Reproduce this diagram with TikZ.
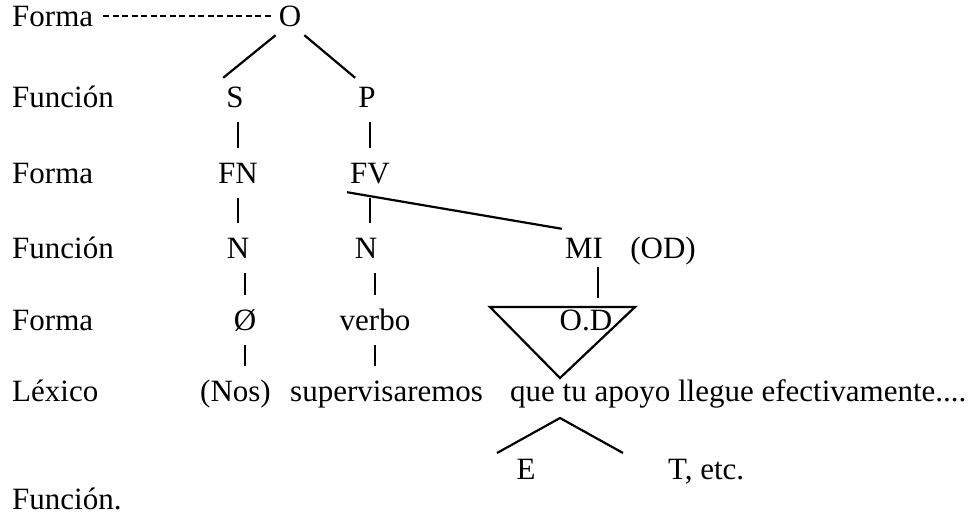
\documentclass[tikz,border=0pt]{standalone}
\usepackage{fontspec}
\setmainfont{Liberation Serif}
\usetikzlibrary{calc}

\begin{document}
\begin{tikzpicture}[x=1pt,y=-1pt,
    lab/.style={font=\fontsize{31}{31}\selectfont,text height=20pt,text depth=0pt,inner xsep=3pt,inner ysep=9pt},
    txt/.style={lab,anchor=base west,inner xsep=0pt},
    word/.style={lab,anchor=base},
    stem/.style={line width=1.1pt,shorten <=6pt,shorten >=6pt},
    limb/.style={line width=2.2pt},
    dashline/.style={line width=1.8pt,dash pattern=on 6pt off 3.5pt}]
  \useasboundingbox (0,0) rectangle (977,515);

  \node[txt] (fma1) at (12,26) {Forma};
  \node[txt] (fun2) at (12,107) {Función};
  \node[txt] (fma3) at (12,183) {Forma};
  \node[txt] (fun4) at (12,258) {Función};
  \node[txt] (fma5) at (12,330) {Forma};
  \node[txt] (lex) at (12,401) {Léxico};
  \node[txt] (fun8) at (12,509) {Función.};

  \node[word] (O) at (290,26) {O};
  \node[word] (S) at (235,107) {S};
  \node[word] (P) at (367,107) {P};
  \node[word] (FN) at (238,183) {FN};
  \node[word] (FV) at (370,183) {FV};
  \node[word] (Nl) at (238,258) {N};
  \node[word] (Nr) at (366,258) {N};
  \node[word] (MI) at (584,258) {MI};
  \node[word] (OD) at (663,258) {(OD)};
  \node[word] (zero) at (245,330) {Ø};
  \node[word] (verbo) at (375,330) {verbo};
  \node[word] (odlab) at (586,330) {O.D};
  \node[txt] (nos) at (200,401) {(Nos)};
  \node[txt] (superv) at (290,401) {supervisaremos};
  \node[txt] (que) at (510,401) {que tu apoyo llegue efectivamente....};
  \node[word] (E) at (526,479) {E};
  \node[txt] (T) at (668,479) {T, etc.};

  \draw[dashline] ([xshift=10pt]fma1.east) -- ([xshift=-4pt]O.west);
  \draw[limb] (O.south west) -- (S.north west);
  \draw[limb] (O.south east) -- (P.north west);
  \draw[stem] (FN.north |- S.south) -- (FN.north);
  \draw[stem] (FV.north |- P.south) -- (FV.north);
  \draw[stem] (FN.south) -- (FN.south |- Nl.north);
  \draw[stem] (FV.south) -- (FV.south |- Nr.north);
  \draw[limb] (FV.south west) -- (MI.north west);
  \draw[stem] (zero.north |- Nl.south) -- (zero.north);
  \draw[stem] (verbo.north |- Nr.south) -- (verbo.north);
  \draw[stem] (zero.south) -- (zero.south |- nos.north);
  \draw[stem] (verbo.south) -- (verbo.south |- superv.north);

  \coordinate (tl) at (490,307);
  \coordinate (tr) at (635,307);
  \coordinate (tip) at (560,378);
  \coordinate (odtop) at (598,307);
  \draw[limb,line join=miter] (tl) -- (tr) -- (tip) -- cycle;
  \draw[line width=1.1pt] (MI.south -| odtop) -- ([yshift=9pt]odtop);

  \coordinate (wl) at (497,453);
  \coordinate (wtop) at (560,418);
  \coordinate (wr) at (623,453);
  \draw[limb] (wl) -- (wtop) -- (wr);
\end{tikzpicture}
\end{document}
